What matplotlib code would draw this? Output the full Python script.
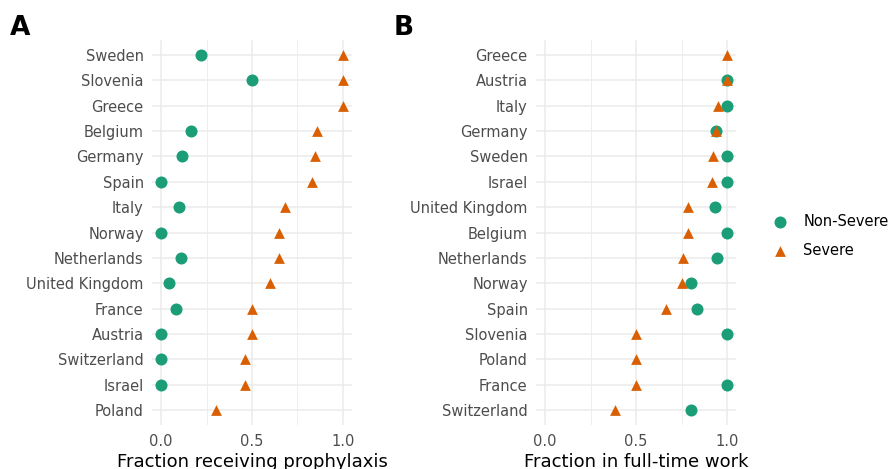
import numpy as np
import matplotlib.pyplot as plt

plt.rcParams['font.family'] = ['DejaVu Sans']

# painel A: fração recebendo profilaxia
paises_a = ['Sweden', 'Slovenia', 'Greece', 'Belgium', 'Germany', 'Spain', 'Italy',
            'Norway', 'Netherlands', 'United Kingdom', 'France', 'Austria',
            'Switzerland', 'Israel', 'Poland']
nao_grave_a = [0.22, 0.50, np.nan, 0.165, 0.115, 0.0, 0.10, 0.0, 0.11, 0.045,
               0.083, 0.0, 0.0, 0.0, np.nan]
grave_a = [1.0, 1.0, 1.0, 0.857, 0.846, 0.83, 0.68, 0.65, 0.65, 0.60, 0.50,
           0.50, 0.46, 0.46, 0.30]

# painel B: fração em trabalho de tempo integral
paises_b = ['Greece', 'Austria', 'Italy', 'Germany', 'Sweden', 'Israel',
            'United Kingdom', 'Belgium', 'Netherlands', 'Norway', 'Spain',
            'Slovenia', 'Poland', 'France', 'Switzerland']
nao_grave_b = [np.nan, 1.0, 1.0, 0.94, 1.0, 1.0, 0.933, 1.0, 0.944, 0.80,
               0.833, 1.0, np.nan, 1.0, 0.80]
grave_b = [1.0, 1.0, 0.95, 0.94, 0.923, 0.917, 0.786, 0.786, 0.76, 0.75,
           0.667, 0.50, 0.50, 0.50, 0.385]

verde = '#1B9E77'
laranja = '#D95F02'

fig = plt.figure(figsize=(8.89, 4.69), dpi=100)


def painel(ax, paises, nao_grave, grave, titulo):
    y = np.arange(len(paises))
    ax.scatter(nao_grave, y, s=75, marker='o', color=verde, zorder=3,
               linewidths=0, label='Non-Severe')
    ax.scatter(grave, y, s=60, marker='^', color=laranja, zorder=4,
               linewidths=0, label='Severe')
    ax.set_xlim(-0.05, 1.05)
    ax.set_ylim(len(paises) - 0.4, -0.6)
    ax.set_yticks(y)
    ax.set_yticklabels(paises)
    ax.set_xticks([0, 0.5, 1.0])
    ax.set_xticklabels(['0.0', '0.5', '1.0'])
    ax.set_xticks([0.25, 0.75], minor=True)
    ax.tick_params(axis='both', which='both', length=0, labelsize=10.5,
                   labelcolor='#4D4D4D', pad=6)
    ax.grid(True, which='major', color='#EBEBEB', linewidth=1.1, zorder=0)
    ax.grid(True, which='minor', axis='x', color='#EBEBEB', linewidth=0.6, zorder=0)
    ax.set_axisbelow(True)
    for s in ax.spines.values():
        s.set_visible(False)
    ax.set_xlabel(titulo, fontsize=13, labelpad=3)


ax1 = fig.add_axes([0.171, 0.0934, 0.225, 0.8217])
painel(ax1, paises_a, nao_grave_a, grave_a, 'Fraction receiving prophylaxis')
ax2 = fig.add_axes([0.603, 0.0934, 0.225, 0.8217])
painel(ax2, paises_b, nao_grave_b, grave_b, 'Fraction in full-time work')

fig.text(0.011, 0.94, 'A', fontsize=19, fontweight='bold', va='center')
fig.text(0.443, 0.94, 'B', fontsize=19, fontweight='bold', va='center')

handles, labels = ax2.get_legend_handles_labels()
fig.legend(handles, labels, loc='center left', bbox_to_anchor=(0.846, 0.497),
           frameon=False, fontsize=10.5, handletextpad=0.6, labelspacing=1.0)

plt.savefig('out.png', dpi=100)
